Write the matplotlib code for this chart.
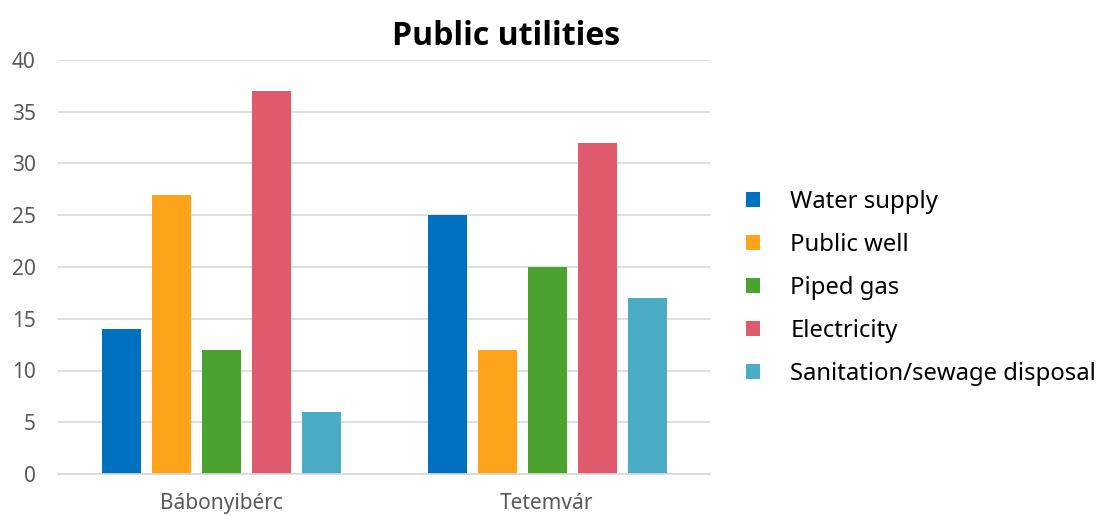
import numpy as np
import matplotlib
matplotlib.use('Agg')
import matplotlib.pyplot as plt

plt.rcParams['font.family'] = ['Noto Sans', 'DejaVu Sans']

# data
places = ['Bábonyibérc', 'Tetemvár']
series = ['Water supply', 'Public well', 'Piped gas', 'Electricity', 'Sanitation/sewage disposal']
water_supply = [14, 25]
public_well = [27, 12]
piped_gas = [12, 20]
electricity = [37, 32]
sanitation = [6, 17]
colors = ['#0070C0', '#FFA31A', '#4CA22F', '#E05A6E', '#4BACC6']

values = [water_supply, public_well, piped_gas, electricity, sanitation]

fig = plt.figure(figsize=(11.01, 5.15), dpi=100)
ax = fig.add_axes([58 / 1101, 1 - 474 / 515, 652 / 1101, 414 / 515])

x = np.arange(len(places))
step = 50 / 326
width = 39 / 326
for i, (name, vals) in enumerate(zip(series, values)):
    ax.bar(x + (i - 2) * step, vals, width=width, color=colors[i], label=name, zorder=3)

ax.set_xlim(-0.5, 1.5)
ax.set_ylim(0, 40)
ax.set_yticks(range(0, 41, 5))
ax.set_xticks(x)
ax.set_xticklabels(places)
ax.grid(axis='y', color='#d9d9d9', linewidth=1.2, zorder=0)
for s in ['top', 'right', 'left']:
    ax.spines[s].set_visible(False)
ax.spines['bottom'].set_color('#d9d9d9')
ax.spines['bottom'].set_linewidth(1.2)
ax.spines['bottom'].set_zorder(4)
ax.tick_params(axis='both', length=0, labelsize=15, colors='#595959')
ax.tick_params(axis='y', pad=16)
ax.tick_params(axis='x', pad=14)

fig.text(506 / 1101, 1 - 36 / 515, 'Public utilities', ha='center', va='center',
         fontsize=23, fontweight='bold', color='black',
         family=['Open Sans', 'Noto Sans', 'DejaVu Sans'])

fig.legend(loc='center left', bbox_to_anchor=(746 / 1101, 1 - 288 / 515), frameon=False,
           fontsize=17.2, handlelength=0.6, handleheight=0.6, handletextpad=1.25,
           labelspacing=0.8, borderaxespad=0, borderpad=0)

fig.savefig('out.png', dpi=100)
